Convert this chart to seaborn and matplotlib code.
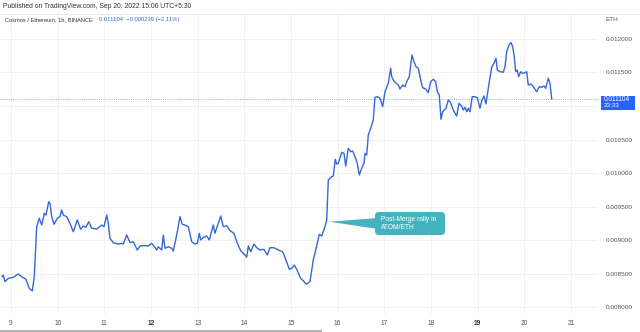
import matplotlib
matplotlib.use("Agg")
import matplotlib.pyplot as plt
from matplotlib.patches import Rectangle, FancyBboxPatch, Polygon
import pandas as pd
import seaborn as sns

# ATOM/ETH hourly close, Sep 2022 (day of month as fractional days)
days = [8.807, 8.835, 8.871, 8.942, 9.049, 9.156, 9.229, 9.321, 9.392, 9.456,
        9.499, 9.551, 9.606, 9.658, 9.714, 9.750, 9.808, 9.836, 9.872, 9.921,
        9.992, 10.050, 10.086, 10.121, 10.193, 10.264, 10.335, 10.421, 10.493, 10.549,
        10.607, 10.665, 10.729, 10.836, 10.943, 10.993, 11.051, 11.085, 11.121, 11.192,
        11.299, 11.372, 11.406, 11.479, 11.550, 11.621, 11.706, 11.764, 11.871, 11.942,
        12.015, 12.086, 12.122, 12.156, 12.229, 12.263, 12.300, 12.371, 12.443, 12.478,
        12.551, 12.621, 12.670, 12.728, 12.799, 12.872, 12.943, 12.992, 13.035, 13.065,
        13.120, 13.193, 13.249, 13.335, 13.371, 13.442, 13.493, 13.549, 13.622, 13.693,
        13.778, 13.849, 13.922, 14.014, 14.050, 14.085, 14.136, 14.207, 14.265, 14.335,
        14.421, 14.492, 14.550, 14.635, 14.727, 14.822, 14.892, 14.963, 15.015, 15.070,
        15.122, 15.207, 15.263, 15.327, 15.407, 15.477, 15.550, 15.606, 15.657, 15.728,
        15.765, 15.799, 15.872, 15.906, 15.949, 15.979, 16.013, 16.086, 16.135, 16.172,
        16.227, 16.279, 16.322, 16.371, 16.420, 16.463, 16.514, 16.564, 16.585, 16.622,
        16.656, 16.707, 16.763, 16.799, 16.849, 16.907, 16.964, 17.014, 17.084, 17.136,
        17.157, 17.213, 17.299, 17.335, 17.393, 17.442, 17.479, 17.534, 17.592, 17.635,
        17.678, 17.727, 17.779, 17.821, 17.892, 17.941, 17.993, 18.049, 18.100, 18.134,
        18.177, 18.214, 18.250, 18.321, 18.370, 18.421, 18.477, 18.550, 18.599, 18.657,
        18.691, 18.728, 18.764, 18.799, 18.835, 18.884, 18.942, 18.991, 19.049, 19.086,
        19.135, 19.178, 19.227, 19.300, 19.349, 19.392, 19.420, 19.478, 19.549, 19.585,
        19.621, 19.671, 19.714, 19.750, 19.784, 19.814, 19.849, 19.879, 19.921, 19.964,
        20.014, 20.050, 20.084, 20.142, 20.191, 20.264, 20.320, 20.371, 20.421, 20.457,
        20.513, 20.549, 20.586]

prices = [0.008448, 0.008478, 0.008378, 0.008428, 0.008443, 0.008493, 0.008452, 0.008414, 0.008279, 0.008239,
          0.008452, 0.009199, 0.009324, 0.009224, 0.009399, 0.009373, 0.009572, 0.009548, 0.009348, 0.009234,
          0.009324, 0.009348, 0.009448, 0.009373, 0.009348, 0.009249, 0.009124, 0.009299, 0.009160, 0.009209,
          0.009190, 0.009273, 0.009175, 0.009164, 0.009224, 0.009199, 0.009373, 0.009249, 0.009025, 0.008960,
          0.008940, 0.008951, 0.008940, 0.009075, 0.008960, 0.008975, 0.008851, 0.008911, 0.008915, 0.008911,
          0.008951, 0.008888, 0.008851, 0.008900, 0.008851, 0.009075, 0.008876, 0.008900, 0.008876, 0.008836,
          0.009075, 0.009348, 0.009234, 0.009224, 0.009199, 0.008975, 0.008940, 0.008951, 0.009100, 0.009000,
          0.009040, 0.009060, 0.009000, 0.009224, 0.009100, 0.009249, 0.009358, 0.009199, 0.009213, 0.009139,
          0.009100, 0.008951, 0.008840, 0.008776, 0.008742, 0.008911, 0.008825, 0.008940, 0.008885, 0.008851,
          0.008861, 0.008776, 0.008885, 0.008885, 0.008851, 0.008825, 0.008702, 0.008563, 0.008578, 0.008627,
          0.008563, 0.008428, 0.008393, 0.008339, 0.008381, 0.008702, 0.008911, 0.009085, 0.009060, 0.009199,
          0.009299, 0.009896, 0.009945, 0.009955, 0.010205, 0.010134, 0.010145, 0.010309, 0.010294, 0.010105,
          0.010369, 0.010318, 0.010328, 0.010243, 0.010145, 0.009970, 0.010070, 0.010145, 0.010294, 0.010269,
          0.010567, 0.010667, 0.010791, 0.011130, 0.011139, 0.011115, 0.010990, 0.011213, 0.011339, 0.011563,
          0.011437, 0.011363, 0.011313, 0.011254, 0.011313, 0.011288, 0.011363, 0.011437, 0.011761, 0.011661,
          0.011587, 0.011563, 0.011388, 0.011273, 0.011249, 0.011199, 0.011363, 0.011399, 0.011363, 0.011213,
          0.011164, 0.010802, 0.010915, 0.010966, 0.011090, 0.011049, 0.010940, 0.010851, 0.011040, 0.011000,
          0.010940, 0.010981, 0.010915, 0.010966, 0.010915, 0.011139, 0.011139, 0.011124, 0.010966, 0.011079,
          0.011149, 0.011030, 0.011264, 0.011578, 0.011637, 0.011712, 0.011537, 0.011512, 0.011503, 0.011587,
          0.011810, 0.011910, 0.011945, 0.011885, 0.011736, 0.011512, 0.011537, 0.011437, 0.011512, 0.011488,
          0.011497, 0.011512, 0.011313, 0.011328, 0.011288, 0.011213, 0.011288, 0.011279, 0.011299, 0.011264,
          0.011413, 0.011339, 0.011104]

x_ticks = [9, 10, 11, 12, 13, 14, 15, 16, 17, 18, 19, 20, 21]
bold_days = [12, 19]
y_ticks = [0.0080, 0.0085, 0.0090, 0.0095, 0.0100, 0.0105, 0.0110, 0.0115, 0.0120]

last_price = 0.011104
change = -0.000239
change_pct = -2.11
bar_time = "23:33"
header = "Published on TradingView.com, Sep 20, 2022 15:06 UTC+5:30"
symbol = "Cosmos / Ethereum, 1h, BINANCE"
note = "Post-Merge rally in\nATOM/ETH"
note_day, note_price = 15.82, 0.009273

sns.set_style("white")
plt.rcParams["font.family"] = ["Liberation Sans", "DejaVu Sans"]

W, H = 640, 332
fig = plt.figure(figsize=(W / 100, H / 100), dpi=100)


def fx(x):
    return x / W


def fy(y):
    return 1 - y / H


# main pane: x 0..598 px, y 14..314 px (from top)
ax = fig.add_axes([0, fy(314), fx(598), (314 - 14) / H])
df = pd.DataFrame({"day": days, "price": prices})
line_color = "#3568d4"
sns.lineplot(data=df, x="day", y="price", ax=ax, color=line_color,
             linewidth=1.0, sort=False, estimator=None, zorder=3)

ax.set_xlim(8.7643, 21.578)
ax.set_ylim(0.007896, 0.012373)
ax.set_xticks(x_ticks)
ax.set_yticks(y_ticks)
ax.grid(True, color="#eef0f4", linewidth=0.7)
ax.set_axisbelow(True)
for s in ax.spines.values():
    s.set_visible(False)
ax.set_xlabel("")
ax.set_ylabel("")

# price scale on the right; the level under the last-price tag stays unlabeled
ax.yaxis.tick_right()
ax.set_yticklabels(["" if abs(v - last_price) < 0.0002 else f"{v:.6f}" for v in y_ticks])
ax.tick_params(axis="y", length=0, pad=5.5, labelsize=4.6, labelcolor="#555555")
ax.set_xticklabels([str(d) for d in x_ticks])
ax.tick_params(axis="x", length=0, pad=4.5, labelsize=4.8, labelcolor="#555555")
for lbl, d in zip(ax.get_xticklabels(), x_ticks):
    if d in bold_days:
        lbl.set_fontweight("bold")
        lbl.set_color("#333333")

# dotted line at the last price
ax.axhline(last_price, color="#8fb0ee", linewidth=0.7,
           linestyle=(0, (1, 1.2)), zorder=2)

# header and separator
fig.text(fx(3), fy(6.5), header, fontsize=4.9, color="#333333", va="center", ha="left")
fig.add_artist(plt.Line2D([0, 1], [fy(13.5), fy(13.5)], color="#e6e8ec", linewidth=0.6))
fig.text(fx(5), fy(20), symbol, fontsize=4.1, color="#333333", va="center", ha="left")
fig.text(fx(99), fy(20),
         f"{last_price:.6f}  \u2212{abs(change):.6f} (\u2212{abs(change_pct):.2f}%)",
         fontsize=4.25, color="#2f6fd8", va="center", ha="left")
fig.text(fx(606), fy(19.5), "ETH", fontsize=4.6, color="#555555", va="center", ha="left")

# last price tag on the price scale
fig.add_artist(Rectangle((fx(601), fy(109.5)), fx(34), 14 / H,
                         facecolor="#2962ff", edgecolor="none", zorder=5))
fig.text(fx(604), fy(99.3), f"{last_price:.6f}", fontsize=4.7, color="white",
         va="center", ha="left", zorder=6)
fig.text(fx(604), fy(105.8), bar_time, fontsize=4.5, color="white",
         va="center", ha="left", zorder=6)

# callout box with pointer to the rally
callout = "#45b3bd"
tip = ax.transData.transform((note_day, note_price))
tip_fig = fig.transFigure.inverted().transform(tip)
fig.add_artist(Polygon([tip_fig, (fx(378), fy(218)), (fx(378), fy(229))],
                       closed=True, facecolor=callout, edgecolor="none", zorder=5))
fig.add_artist(FancyBboxPatch((fx(375), fy(235)), fx(70), 23 / H,
                              boxstyle="round,pad=0,rounding_size=0.006",
                              facecolor=callout, edgecolor="none", zorder=5,
                              mutation_aspect=W / H))
fig.text(fx(381), fy(223.5), note, fontsize=4.8, color="white", va="center",
         ha="left", linespacing=1.1, zorder=6)

# scrollbar at the bottom edge
fig.add_artist(Rectangle((0, 0), fx(322), 2 / H, facecolor="#b4b4b4",
                         edgecolor="none"))

fig.savefig("out.png", dpi=100)
